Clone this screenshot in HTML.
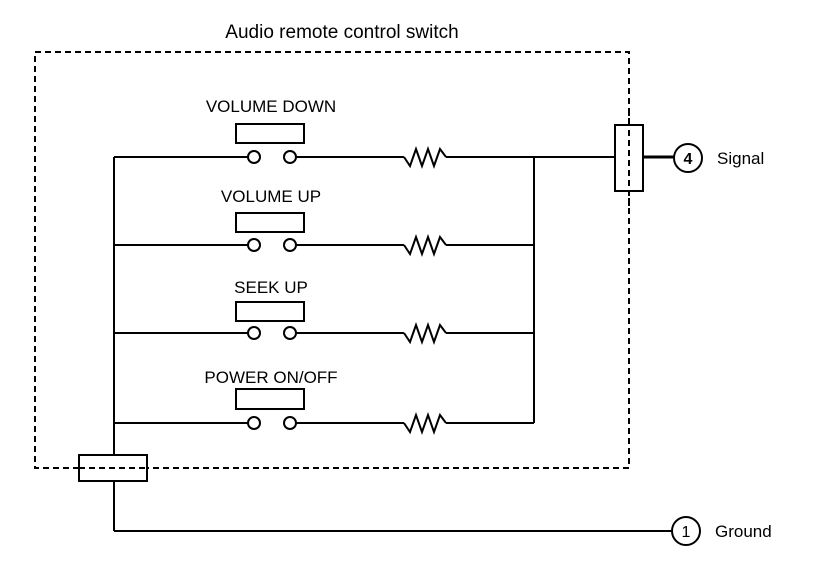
<!DOCTYPE html>
<html><head><style>
html,body{margin:0;padding:0;background:#fff;}
svg{display:block;}
text{font-family:"Liberation Sans",Arial,sans-serif;fill:#000;}
</style></head><body>
<svg width="832" height="572" viewBox="0 0 832 572" xmlns="http://www.w3.org/2000/svg">
<g fill="none" stroke="#000" stroke-width="2">
<rect x="35" y="52" width="594" height="416" stroke-dasharray="6,4"/>
<line x1="114" y1="157" x2="114" y2="455"/>
<line x1="534" y1="157" x2="534" y2="423"/>
<line x1="534" y1="157" x2="615" y2="157"/>
<line x1="643" y1="157" x2="674" y2="157" stroke-width="3"/>
<rect x="615" y="125" width="28" height="66" fill="#fff"/>
<line x1="629" y1="110" x2="629" y2="210" stroke-dasharray="6,4"/>
<circle cx="688" cy="158" r="14"/>
<line x1="114" y1="481" x2="114" y2="531"/>
<line x1="114" y1="531" x2="672" y2="531"/>
<circle cx="686" cy="531" r="14"/>
<rect x="79" y="455" width="68" height="26" fill="#fff"/>
<line x1="79" y1="468" x2="147" y2="468" stroke-dasharray="6,4"/>
</g>
<g fill="none" stroke="#000" stroke-width="2">
<g id="r1">
<line x1="114" y1="157" x2="248" y2="157"/>
<circle cx="254" cy="157" r="6"/>
<circle cx="290" cy="157" r="6"/>
<line x1="296" y1="157" x2="404" y2="157"/>
<polyline points="404,157 410,166 416,149 422,166 428,149 434,166 440,149 446,157"/>
<line x1="446" y1="157" x2="534" y2="157"/>
</g>
<use href="#r1" y="88"/>
<use href="#r1" y="176"/>
<use href="#r1" y="266"/>
<rect x="236" y="124" width="68" height="19"/>
<rect x="236" y="213" width="68" height="19"/>
<rect x="236" y="302" width="68" height="19"/>
<rect x="236" y="389" width="68" height="20"/>
</g>
<text x="342" y="38" font-size="19" text-anchor="middle">Audio remote control switch</text>
<text x="271" y="112" font-size="17" text-anchor="middle">VOLUME DOWN</text>
<text x="271" y="202" font-size="17" text-anchor="middle">VOLUME UP</text>
<text x="271" y="293" font-size="17" text-anchor="middle">SEEK UP</text>
<text x="271" y="383" font-size="17" text-anchor="middle">POWER ON/OFF</text>
<text x="688" y="164" font-size="16" font-weight="bold" text-anchor="middle">4</text>
<text x="717" y="164" font-size="17">Signal</text>
<text x="686" y="537" font-size="16" text-anchor="middle">1</text>
<text x="715" y="537" font-size="17">Ground</text>
</svg>
</body></html>
